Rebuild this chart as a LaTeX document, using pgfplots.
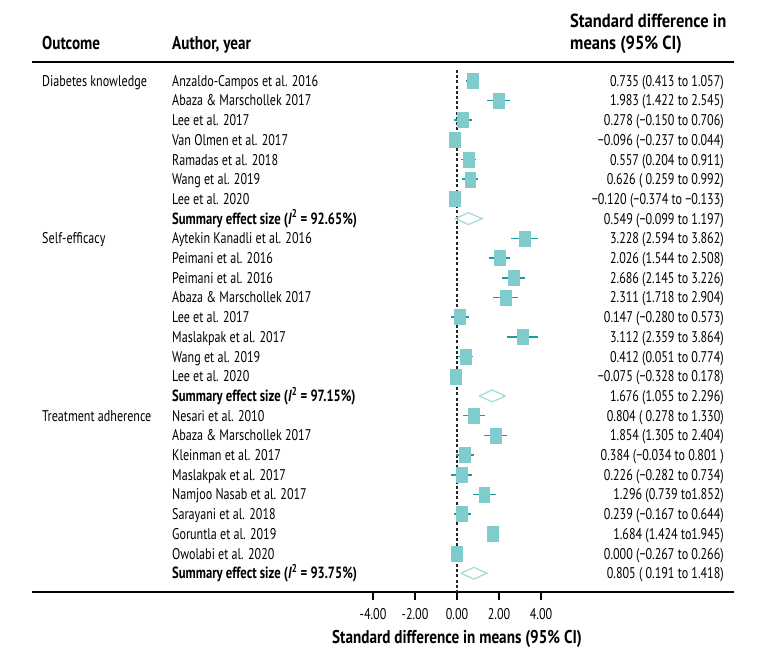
\documentclass[border=0pt]{standalone}
\usepackage{fontspec}
\setmainfont{PT Sans}[FakeStretch=0.78]
\newfontfamily\headfam{PT Sans}[FakeStretch=0.82]
\newfontfamily\rheadfam{PT Sans}[FakeStretch=0.87]
\usepackage{pgfplots}
\usepackage{pgfplotstable}
\pgfplotsset{compat=1.18}

\definecolor{sqfill}{RGB}{128,204,204}
\definecolor{ciline}{RGB}{22,158,158}
\definecolor{dmd}{RGB}{165,220,220}

\newcommand\bodyfont{\fontsize{15.5pt}{18pt}\selectfont}
\newcommand\sumfont{\fontsize{16.2pt}{18pt}\selectfont\bfseries}
\newcommand\headfont{\headfam\fontsize{18.5pt}{22pt}\selectfont\bfseries}
\newcommand\rheadfont{\rheadfam\fontsize{19pt}{22pt}\selectfont\bfseries}

% row est lo hi
\pgfplotstableread{
row est lo hi
1 0.735 0.413 1.057
2 1.983 1.422 2.545
3 0.278 -0.150 0.706
4 -0.096 -0.237 0.044
5 0.557 0.204 0.911
6 0.626 0.259 0.992
7 -0.120 -0.374 -0.133
9 3.228 2.594 3.862
10 2.026 1.544 2.508
11 2.686 2.145 3.226
12 2.311 1.718 2.904
13 0.147 -0.280 0.573
14 3.112 2.359 3.864
15 0.412 0.051 0.774
16 -0.075 -0.328 0.178
18 0.804 0.278 1.330
19 1.854 1.305 2.404
20 0.384 -0.034 0.801
21 0.226 -0.282 0.734
22 1.296 0.739 1.852
23 0.239 -0.167 0.644
24 1.684 1.424 1.945
25 0.000 -0.267 0.266
}\studies

\begin{document}
\begin{tikzpicture}
\useasboundingbox (0,0) rectangle (771pt,-669pt);

\begin{axis}[
    at={(32pt,-592pt)}, anchor=south west,
    scale only axis, width=702pt, height=530pt,
    xmin=-20.238, xmax=13.190,
    ymin=0.0508, ymax=26.954, y dir=reverse,
    axis x line=bottom, axis y line=none,
    axis line style={-, line width=1.3pt, black},
    xtick={-4,-2,0,2,4},
    tick align=outside, major tick length=8pt,
    tick style={black, line width=1.2pt},
    xticklabel style={font=\bodyfont, yshift=-5pt},
    /pgf/number format/.cd, fixed, fixed zerofill, precision=2, assume math mode=true,
    /pgfplots/.cd, clip=false,
]
\draw[black!85, line width=1.2pt, dash pattern=on 3pt off 2.2pt]
    (axis cs:0,0.457) -- (axis cs:0,26.954);

\addplot[only marks, mark=square*, mark size=7.5pt,
    mark options={xscale=0.72, fill=sqfill, draw=sqfill},
    error bars/.cd, x dir=both, x explicit, error mark=none,
    error bar style={ciline, line width=1.6pt}]
    table[x=est, y=row,
          x error minus expr={\thisrow{est}-\thisrow{lo}},
          x error plus expr={\thisrow{hi}-\thisrow{est}}] {\studies};

\addplot[dmd, line width=1.3pt, mark=none]
    coordinates {(-0.099,8) (0.549,7.7) (1.197,8) (0.549,8.3) (-0.099,8)};
\addplot[dmd, line width=1.3pt, mark=none]
    coordinates {(1.055,17) (1.676,16.7) (2.296,17) (1.676,17.3) (1.055,17)};
\addplot[dmd, line width=1.3pt, mark=none]
    coordinates {(0.191,26) (0.805,25.7) (1.418,26) (0.805,26.3) (0.191,26)};
\end{axis}

\draw[line width=1.3pt] (32pt,-62pt) -- (734pt,-62pt);

\begin{scope}[x=1pt, y=-1pt]
\node[anchor=base west, inner sep=0pt, font=\headfont] at (42,50) {Outcome};
\node[anchor=base west, inner sep=0pt, font=\headfont] at (172,50) {Author, year};
\node[anchor=base west, inner sep=0pt, font=\rheadfont] at (570,28) {Standard difference in};
\node[anchor=base west, inner sep=0pt, font=\rheadfont] at (570,50) {means (95\% CI)};

\foreach \r/\t in {1/Diabetes knowledge, 9/Self-efficacy, 18/Treatment adherence}
  \node[anchor=base west, inner sep=0pt, font=\bodyfont] at (42,{80.7+(\r-1)*19.7+5.5}) {\t};

\foreach \r/\t in {
  1/Anzaldo-Campos et al. 2016, 2/Abaza \& Marschollek 2017, 3/Lee et al. 2017,
  4/Van Olmen et al. 2017, 5/Ramadas et al. 2018, 6/Wang et al. 2019, 7/Lee et al. 2020,
  9/Aytekin Kanadli et al. 2016, 10/Peimani et al. 2016, 11/Peimani et al. 2016,
  12/Abaza \& Marschollek 2017, 13/Lee et al. 2017, 14/Maslakpak et al. 2017,
  15/Wang et al. 2019, 16/Lee et al. 2020,
  18/Nesari et al. 2010, 19/Abaza \& Marschollek 2017, 20/Kleinman et al. 2017,
  21/Maslakpak et al. 2017, 22/Namjoo Nasab et al. 2017, 23/Sarayani et al. 2018,
  24/Goruntla et al. 2019, 25/Owolabi et al. 2020}
  \node[anchor=base west, inner sep=0pt, font=\bodyfont] at (172,{80.7+(\r-1)*19.7+5.5}) {\t};

\foreach \r/\t in {8/92.65, 17/97.15, 26/93.75}
  \node[anchor=base west, inner sep=0pt, font=\sumfont] at (172,{80.7+(\r-1)*19.7+5.5})
    {Summary effect size (\textit{I}\textsuperscript{2} = \t\%)};

\foreach \r/\t in {
  1/0.735 (0.413 to 1.057), 2/1.983 (1.422 to 2.545), 3/0.278 (−0.150 to 0.706),
  4/−0.096 (−0.237 to 0.044), 5/0.557 (0.204 to 0.911), 6/0.626 ( 0.259 to 0.992),
  7/−0.120 (−0.374 to −0.133), 8/0.549 (−0.099 to 1.197),
  9/3.228 (2.594 to 3.862), 10/2.026 (1.544 to 2.508), 11/2.686 (2.145 to 3.226),
  12/2.311 (1.718 to 2.904), 13/0.147 (−0.280 to 0.573), 14/3.112 (2.359 to 3.864),
  15/0.412 (0.051 to 0.774), 16/−0.075 (−0.328 to 0.178), 17/1.676 (1.055 to 2.296),
  18/0.804 ( 0.278 to 1.330), 19/1.854 (1.305 to 2.404), 20/0.384 (−0.034 to 0.801 ),
  21/0.226 (−0.282 to 0.734), 22/1.296 (0.739 to1.852), 23/0.239 (−0.167 to 0.644),
  24/1.684 (1.424 to1.945), 25/0.000 (−0.267 to 0.266), 26/0.805 ( 0.191 to 1.418)}
  \node[anchor=base east, inner sep=0pt, font=\bodyfont] at (724,{80.7+(\r-1)*19.7+5.5}) {\t};

\node[anchor=base, inner sep=0pt, font=\headfont] at (457,643) {Standard difference in means (95\% CI)};
\end{scope}
\end{tikzpicture}
\end{document}
